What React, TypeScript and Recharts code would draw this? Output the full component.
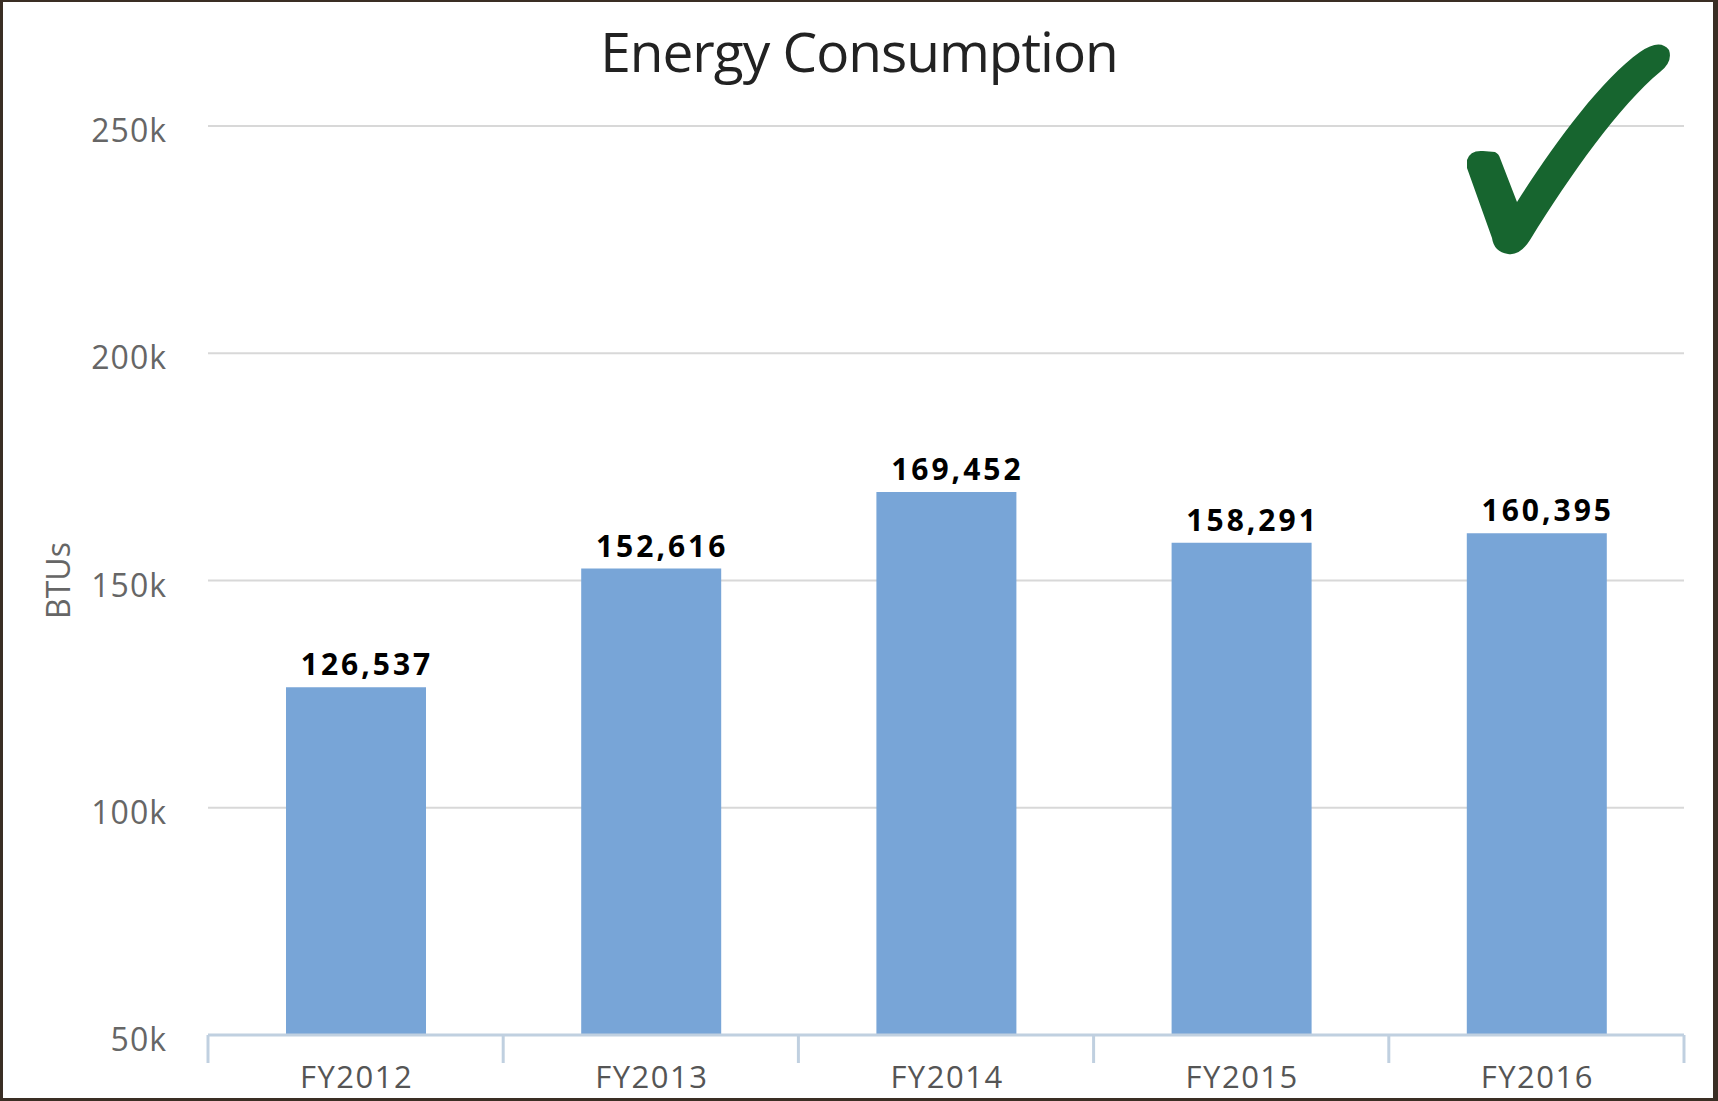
import { BarChart, Bar, XAxis, YAxis, CartesianGrid, LabelList } from 'recharts'

const categories = ['FY2012', 'FY2013', 'FY2014', 'FY2015', 'FY2016']
const btus = [126537, 152616, 169452, 158291, 160395]
const yTicks = [50000, 100000, 150000, 200000, 250000]

const W = 1718
const H = 1101
const FONT = '"Open Sans", "DejaVu Sans", sans-serif'
const BAR = '#78a5d7'
const AXIS = '#c0d0e0'

const data = categories.map((c, i) => ({ name: c, value: btus[i] }))

const YTick = ({ x, y, payload }: any) => (
  <text x={x} y={y} dy={16} textAnchor="end" fill="#666" fontSize={32} fontFamily={FONT} letterSpacing={1}>
    {`${payload.value / 1000}k`}
  </text>
)

const XTick = ({ x, y, payload, index }: any) => {
  const half = payload.offset || 147.6
  return (
    <g>
      <line x1={x - half} x2={x - half} y1={y} y2={y + 28} stroke={AXIS} strokeWidth={3} />
      {index === categories.length - 1 && (
        <line x1={x + half} x2={x + half} y1={y} y2={y + 28} stroke={AXIS} strokeWidth={3} />
      )}
      <text x={x + 1} y={y + 53} textAnchor="middle" fill="#555" fontSize={31} fontFamily={FONT} letterSpacing={1.5}>
        {payload.value}
      </text>
    </g>
  )
}

// labels sit a little right of the bar centre in the original
const BarLabel = ({ x, y, width, value }: any) => (
  <text
    x={x + width / 2 + 11}
    y={y - 12}
    textAnchor="middle"
    fill="#000"
    fontSize={30}
    fontWeight="bold"
    fontFamily={FONT}
    letterSpacing={3}
  >
    {Number(value).toLocaleString('en-US')}
  </text>
)

const AxisTitle = ({ viewBox }: any) => {
  const cx = viewBox.x + 57
  const cy = viewBox.y + viewBox.height / 2
  return (
    <text x={cx} y={cy} transform={`rotate(-90 ${cx} ${cy})`} textAnchor="middle" dominantBaseline="central"
      fill="#666" fontSize={32} fontFamily={FONT}>
      BTUs
    </text>
  )
}

export default function App() {
  return (
    <div style={{ position: 'absolute', left: 0, top: 0, width: W, height: H, background: '#fff', fontFamily: FONT }}>
      <BarChart width={W} height={H} data={data} margin={{ top: 126, right: 34, bottom: 0, left: 0 }}>
        <text x={W / 2} y={72} textAnchor="middle" fill="#222" fontSize={55} fontFamily={FONT} letterSpacing={-1}>
          Energy Consumption
        </text>
        <CartesianGrid vertical={false} stroke="#d8d8d8" strokeWidth={2} />
        <YAxis
          width={208}
          domain={[50000, 250000]}
          ticks={yTicks}
          allowDataOverflow
          axisLine={false}
          tickLine={false}
          tickSize={0}
          tickMargin={41}
          tick={<YTick />}
          label={<AxisTitle />}
        />
        <XAxis
          dataKey="name"
          height={66}
          axisLine={{ stroke: AXIS, strokeWidth: 3 }}
          tickLine={false}
          tickSize={0}
          tickMargin={0}
          interval={0}
          tick={<XTick />}
        />
        <Bar dataKey="value" fill={BAR} barSize={140} isAnimationActive={false}>
          <LabelList dataKey="value" content={<BarLabel />} />
        </Bar>
      </BarChart>
      <svg width={W} height={H} style={{ position: 'absolute', left: 0, top: 0, pointerEvents: 'none' }}>
        <path
          d="M 1467 160 Q 1470 150 1483 151 L 1495 152 Q 1499 154 1500 158 L 1517 202 C 1550 150 1600 80 1640 52 Q 1660 38 1669 50 Q 1673 62 1660 72 C 1620 105 1570 175 1530 240 Q 1520 256 1508 254 Q 1494 252 1492 238 L 1467 168 Z"
          fill="#17652f"
        />
        <rect x={0} y={0} width={W} height={2} fill="#3a2e24" />
        <rect x={0} y={0} width={3} height={H} fill="#3a2e24" />
        <rect x={W - 5} y={0} width={5} height={H} fill="#3a2e24" />
        <rect x={0} y={H - 3} width={W} height={3} fill="#3a2e24" />
      </svg>
    </div>
  )
}
